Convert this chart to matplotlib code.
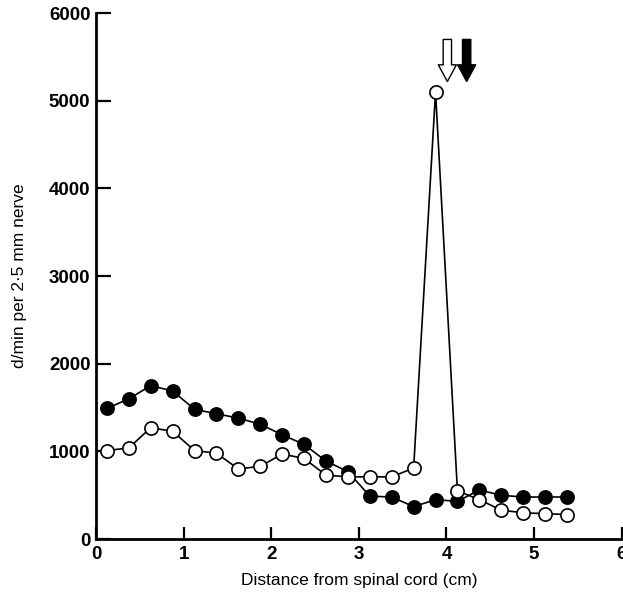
import matplotlib
matplotlib.use("Agg")
import matplotlib.pyplot as plt

# distance from spinal cord (cm), midpoints of 2.5 mm segments
distance = [0.125, 0.375, 0.625, 0.875, 1.125, 1.375, 1.625, 1.875, 2.125, 2.375, 2.625,
            2.875, 3.125, 3.375, 3.625, 3.875, 4.125, 4.375, 4.625, 4.875, 5.125, 5.375]
filled_counts = [1490, 1600, 1750, 1690, 1480, 1430, 1380, 1310, 1190, 1080, 890,
                 770, 490, 480, 370, 450, 430, 560, 500, 480, 480, 480]
open_counts = [1010, 1040, 1270, 1230, 1010, 980, 800, 830, 970, 920, 730,
               710, 710, 710, 810, 5100, 550, 450, 330, 300, 290, 280]
arrow_x = [4.01, 4.23]          # open arrow, filled arrow
arrow_span = [5700, 5220]       # top, tip
x_ticks = [0, 1, 2, 3, 4, 5, 6]
y_ticks = [0, 1000, 2000, 3000, 4000, 5000, 6000]

plt.rcParams["font.family"] = ["Liberation Sans", "DejaVu Sans"]

fig = plt.figure(figsize=(6.23, 5.97), dpi=100)
ax = fig.add_axes([0.154, 0.097, 0.844, 0.881])

ax.plot(distance, filled_counts, color="black", lw=1.2, marker="o", ms=9.5,
        mfc="black", mec="black", mew=1.2, zorder=3)
ax.plot(distance, open_counts, color="black", lw=1.2, marker="o", ms=9.5,
        mfc="white", mec="black", mew=1.2, zorder=4)

# arrows marking the ligature positions
for xa, fc in zip(arrow_x, ["white", "black"]):
    ax.annotate("", xy=(xa, arrow_span[1]), xytext=(xa, arrow_span[0]),
                arrowprops=dict(arrowstyle="simple,head_length=0.6,head_width=0.65,tail_width=0.3",
                                fc=fc, ec="black", lw=1.0, mutation_scale=20,
                                shrinkA=0, shrinkB=0))

ax.set_xlim(0, 6)
ax.set_ylim(0, 6000)
ax.set_xticks(x_ticks)
ax.set_yticks(y_ticks)
ax.tick_params(direction="in", length=11, width=1.6, labelsize=13.5, pad=4)
ax.tick_params(axis="x", length=9, pad=5)
for lab in ax.get_xticklabels() + ax.get_yticklabels():
    lab.set_fontweight("bold")

for side in ("top", "right"):
    ax.spines[side].set_visible(False)
for side in ("left", "bottom"):
    ax.spines[side].set_linewidth(2.0)

ax.set_xlabel("Distance from spinal cord (cm)", fontsize=12.5, labelpad=7)
ax.set_ylabel("d/min per 2·5 mm nerve", fontsize=12.5, labelpad=16)

fig.savefig("out.png", dpi=100)
